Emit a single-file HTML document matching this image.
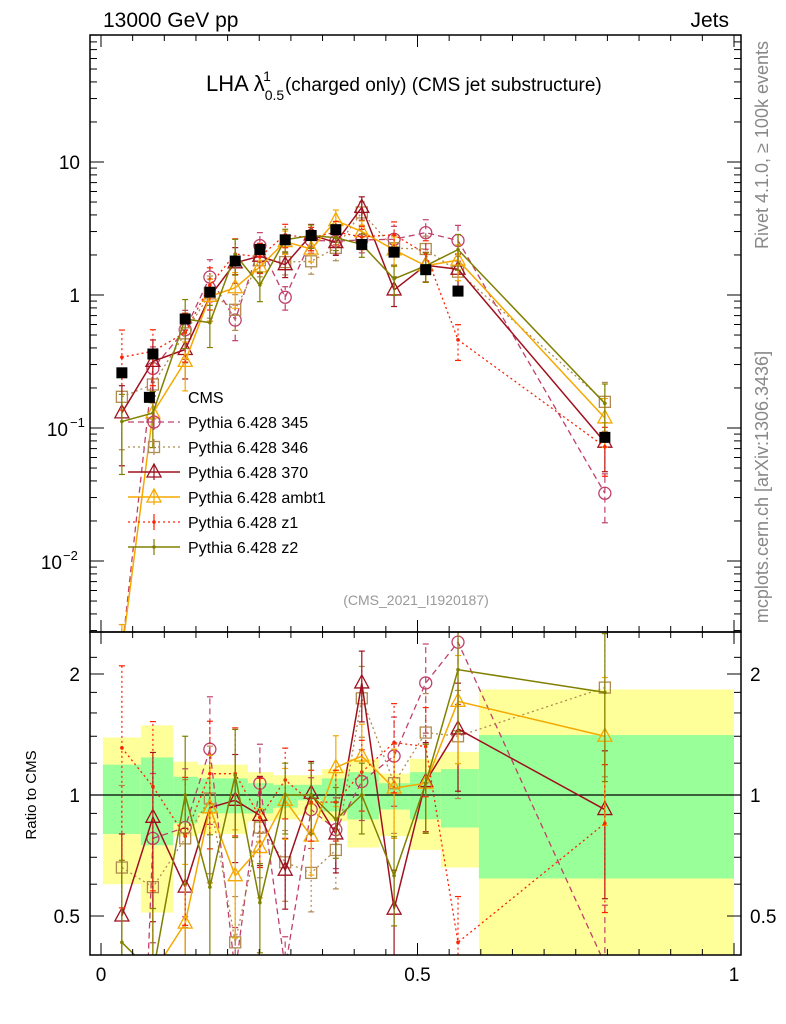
<!DOCTYPE html>
<html><head><meta charset="utf-8"><style>
html,body{margin:0;background:#fff;overflow:hidden;width:786px;height:1024px}
svg{display:block;overflow:hidden}
svg text{font-family:"Liberation Sans",sans-serif}
</style></head><body>
<svg id="c" width="786" height="1024" xmlns="http://www.w3.org/2000/svg"></svg>
<script>
const xs=[0.033,0.082,0.133,0.172,0.212,0.251,0.291,0.332,0.371,0.412,0.463,0.513,0.564,0.796];
const cms=[0.26,0.36,0.66,1.05,1.8,2.2,2.6,2.8,3.1,2.4,2.1,1.55,1.07,0.085];
const cmsExtraX=[0.082];
const cmsExtraY=[0.17];
const r345=[0.008,0.78,0.83,1.3,0.36,1.07,0.37,0.92,0.82,1.08,1.25,1.9,2.4,0.38];
const r346=[0.66,0.59,0.78,0.98,0.43,0.83,0.68,0.64,0.73,1.74,1.07,1.43,1.4,1.85];
const r370=[0.5,0.88,0.59,0.93,0.97,0.89,0.65,1.01,0.8,1.9,0.52,1.08,1.46,0.92];
const rAmbt1=[0.008,0.36,0.48,0.93,0.63,0.74,0.97,0.79,1.17,1.25,1.04,1.07,1.71,1.4];
const rZ1=[1.31,1.05,0.79,1.13,1.13,0.88,1.09,0.96,0.96,1.14,1.35,1.32,0.43,0.85];
const rZ2=[0.43,0.36,1.0,0.59,1.12,0.54,1.0,1.0,0.87,1.0,0.63,1.07,2.05,1.8];
const relErr=[0.6,0.45,0.4,0.35,0.3,0.25,0.2,0.2,0.2,0.2,0.25,0.25,0.3,0.4];
const binEdges=[0.003,0.063,0.114,0.153,0.232,0.272,0.311,0.349,0.389,0.439,0.488,0.537,0.597,1.0];
const yelHi=[1.39,1.49,1.21,1.19,1.14,1.12,1.12,1.16,1.23,1.13,1.23,1.28,1.83];
const yelLo=[0.60,0.51,0.79,0.80,0.86,0.87,0.89,0.86,0.74,0.79,0.73,0.66,0.3];
const grnHi=[1.19,1.24,1.11,1.10,1.07,1.06,1.06,1.10,1.14,1.07,1.14,1.16,1.41];
const grnLo=[0.80,0.75,0.85,0.90,0.90,0.93,0.97,0.91,0.87,0.92,0.87,0.83,0.62];

const NS="http://www.w3.org/2000/svg", svg=document.getElementById('c');
function el(t,a,p){const e=document.createElementNS(NS,t);for(const k in a)e.setAttribute(k,a[k]);(p||svg).appendChild(e);return e;}
const L=90,R=741,T=35,MB=632,RB=955;
const X=v=>101+633*v;
const Ym=v=>295-133*Math.log10(v);
const Yr=r=>795-402*Math.log10(r);

const defs=el('defs',{});
const c1=el('clipPath',{id:'cm'},defs);el('rect',{x:L,y:T,width:R-L,height:MB-T},c1);
const c2=el('clipPath',{id:'cr'},defs);el('rect',{x:L,y:MB,width:R-L,height:RB-MB},c2);

const gb=el('g',{'clip-path':'url(#cr)'});

for(let i=0;i<yelHi.length;i++){
  const x0=X(binEdges[i]),x1=X(binEdges[i+1]);
  const y=el('rect',{x:x0,y:Yr(yelHi[i]),width:x1-x0,height:Yr(yelLo[i])-Yr(yelHi[i]),fill:'#ffff99'},gb);
  
  const g=el('rect',{x:x0,y:Yr(grnHi[i]),width:x1-x0,height:Yr(grnLo[i])-Yr(grnHi[i]),fill:'#99ff99'},gb);
  
}
el('line',{x1:L,x2:R,y1:Yr(1),y2:Yr(1),stroke:'#000','stroke-width':1.2});

const series=[
 {n:'pythia-345',r:r345,c:'#c0406a',d:'6,4',m:'circle',w:1.3},
 {n:'pythia-346',r:r346,c:'#b08a50',d:'2,3',m:'square',w:1.3},
 {n:'pythia-370',r:r370,c:'#a0101e',d:'',m:'tri',w:1.5},
 {n:'pythia-ambt1',r:rAmbt1,c:'#f5a800',d:'',m:'tri',w:1.5},
 {n:'pythia-z1',r:rZ1,c:'#ff2000',d:'2,3',m:'dot',w:1.3},
 {n:'pythia-z2',r:rZ2,c:'#808000',d:'',m:'dot',w:1.5},
];
function marker(g,m,x,y,c){
  if(m==='circle')el('circle',{cx:x,cy:y,r:6,fill:'none',stroke:c,'stroke-width':1.3},g);
  else if(m==='square')el('rect',{x:x-5.5,y:y-5.5,width:11,height:11,fill:'none',stroke:c,'stroke-width':1.3},g);
  else if(m==='tri')el('polygon',{points:`${x},${y-8} ${x-7},${y+5} ${x+7},${y+5}`,fill:'none',stroke:c,'stroke-width':1.3},g);
  else el('circle',{cx:x,cy:y,r:1.8,fill:c},g);
}
function drawSeries(s,panel){
  const clip=panel==='main'?'url(#cm)':'url(#cr)';
  const g=el('g',{'clip-path':clip});
  
  
  const Yf=panel==='main'?(i=>Ym(s.r[i]*cms[i])):(i=>Yr(s.r[i]));
  const Ye=panel==='main'?((i,f)=>Ym(s.r[i]*cms[i]*f)):((i,f)=>Yr(s.r[i]*f));
  let pts=xs.map((x,i)=>X(x)+','+Yf(i)).join(' ');
  el('polyline',{points:pts,fill:'none',stroke:s.c,'stroke-width':s.w,'stroke-dasharray':s.d},g);
  xs.forEach((x,i)=>{
    const lo=Math.max(0.05,1-relErr[i]),hi=1+relErr[i];
    el('line',{x1:X(x),x2:X(x),y1:Ye(i,lo),y2:Ye(i,hi),stroke:s.c,'stroke-width':1.2,'stroke-dasharray':s.d},g);
    el('line',{x1:X(x)-3,x2:X(x)+3,y1:Ye(i,lo),y2:Ye(i,lo),stroke:s.c,'stroke-width':1.2},g);
    el('line',{x1:X(x)-3,x2:X(x)+3,y1:Ye(i,hi),y2:Ye(i,hi),stroke:s.c,'stroke-width':1.2},g);
    marker(g,s.m,X(x),Yf(i),s.c);
  });
}
series.forEach(s=>{drawSeries(s,'main');drawSeries(s,'ratio');});

const gc=el('g',{'clip-path':'url(#cm)'});

xs.forEach((x,i)=>{
  const p=el('rect',{x:X(x)-5.5,y:Ym(cms[i])-5.5,width:11,height:11,fill:'#000'},gc);
  
});
cmsExtraX.forEach((x,i)=>{el('rect',{x:X(x)-9,y:Ym(cmsExtraY[i])-5.5,width:11,height:11,fill:'#000'},gc);});

el('rect',{x:L,y:T,width:R-L,height:MB-T,fill:'none',stroke:'#000','stroke-width':1.5});
el('rect',{x:L,y:MB,width:R-L,height:RB-MB,fill:'none',stroke:'#000','stroke-width':1.5});
const tk=el('g',{stroke:'#000','stroke-width':1});
for(let v=0;v<=1.0001;v+=0.05){
  const big=Math.abs(v*10-Math.round(v*10))<1e-6 && Math.round(v*10)%5===0;
  const len=big?12:6;
  [T,MB,RB].forEach(yb=>{
    if(yb!==T)el('line',{x1:X(v),x2:X(v),y1:yb,y2:yb-len},tk);
    if(yb!==RB)el('line',{x1:X(v),x2:X(v),y1:yb,y2:yb+len},tk);
  });
}
for(let d=-3;d<=1;d++)for(let k=1;k<10;k++){
  const v=k*Math.pow(10,d),y=Ym(v);if(y<T||y>MB)continue;
  const len=k===1?14:7;
  el('line',{x1:L,x2:L+len,y1:y,y2:y},tk);el('line',{x1:R,x2:R-len,y1:y,y2:y},tk);
}
[0.4,0.5,0.6,0.7,0.8,0.9,1,1.2,1.4,1.6,1.8,2,2.2].forEach(v=>{
  const y=Yr(v);const len=(v===0.5||v===1||v===2)?14:7;
  el('line',{x1:L,x2:L+len,y1:y,y2:y},tk);el('line',{x1:R,x2:R-len,y1:y,y2:y},tk);
});

function txt(s,a,name){const t=el('text',a);t.textContent=s;return t;}
txt('10',{x:80,y:169,'font-size':19,'text-anchor':'end'},'y-tick-10');
txt('1',{x:80,y:302,'font-size':19,'text-anchor':'end'},'y-tick-1');
txt('10',{x:68,y:436,'font-size':19,'text-anchor':'end'},'y-tick-0.1');
txt('−1',{x:70,y:427,'font-size':13},'y-tick-0.1-exp');
txt('10',{x:62,y:569,'font-size':19,'text-anchor':'end'},'y-tick-0.01');
txt('−2',{x:63,y:560,'font-size':13},'y-tick-0.01-exp');
[['2',2],['1',1],['0.5',0.5]].forEach(([s,v])=>{
  txt(s,{x:80,y:Yr(v)+7,'font-size':19,'text-anchor':'end'},'ratio-tick-left');
  txt(s,{x:750,y:Yr(v)+7,'font-size':19},'ratio-tick-right');
});
[['0',0],['0.5',0.5],['1',1]].forEach(([s,v])=>txt(s,{x:X(v),y:981,'font-size':19,'text-anchor':'middle'},'x-tick'));
txt('13000 GeV pp',{x:103,y:27,'font-size':21},'energy-label');
txt('Jets',{x:729,y:27,'font-size':21,'text-anchor':'end'},'process-label');
const tt=txt('',{x:206,y:91,'font-size':22},'plot-title');
tt.innerHTML='LHA λ<tspan font-size="14" dy="9">0.5</tspan><tspan font-size="14" dx="-21" dy="-19">1</tspan><tspan dx="14" dy="10" font-size="19">(charged only) (CMS jet substructure)</tspan>';
txt('(CMS_2021_I1920187)',{x:416,y:605,'font-size':14,fill:'#999','text-anchor':'middle'},'analysis-id');
txt('Rivet 4.1.0, ≥ 100k events',{x:0,y:0,'font-size':18,fill:'#888','text-anchor':'middle',transform:'translate(768,145) rotate(-90)'},'rivet-label');
txt('mcplots.cern.ch [arXiv:1306.3436]',{x:0,y:0,'font-size':18,fill:'#888','text-anchor':'middle',transform:'translate(768,487) rotate(-90)'},'mcplots-label');
txt('Ratio to CMS',{x:0,y:0,'font-size':15,'text-anchor':'middle',transform:'translate(36,795) rotate(-90)'},'y-axis-title');

const lg=el('g',{});
const ly=[397,422,447,472,497,522,547];
txt('CMS',{x:188,y:ly[0]+6,'font-size':16},'legend-label');
series.forEach((s,i)=>{
  const g=el('g',{},lg);
  const y=ly[i+1];
  el('line',{x1:128,x2:180,y1:y,y2:y,stroke:s.c,'stroke-width':s.w,'stroke-dasharray':s.d},g);
  el('line',{x1:154,x2:154,y1:y-8,y2:y+8,stroke:s.c,'stroke-width':1.2},g);
  marker(g,s.m,154,y,s.c);
  const t=el('text',{x:188,y:y+6,'font-size':16},g);t.textContent='Pythia 6.428 '+s.n.split('-')[1];
  
});
</script>
</body></html>
